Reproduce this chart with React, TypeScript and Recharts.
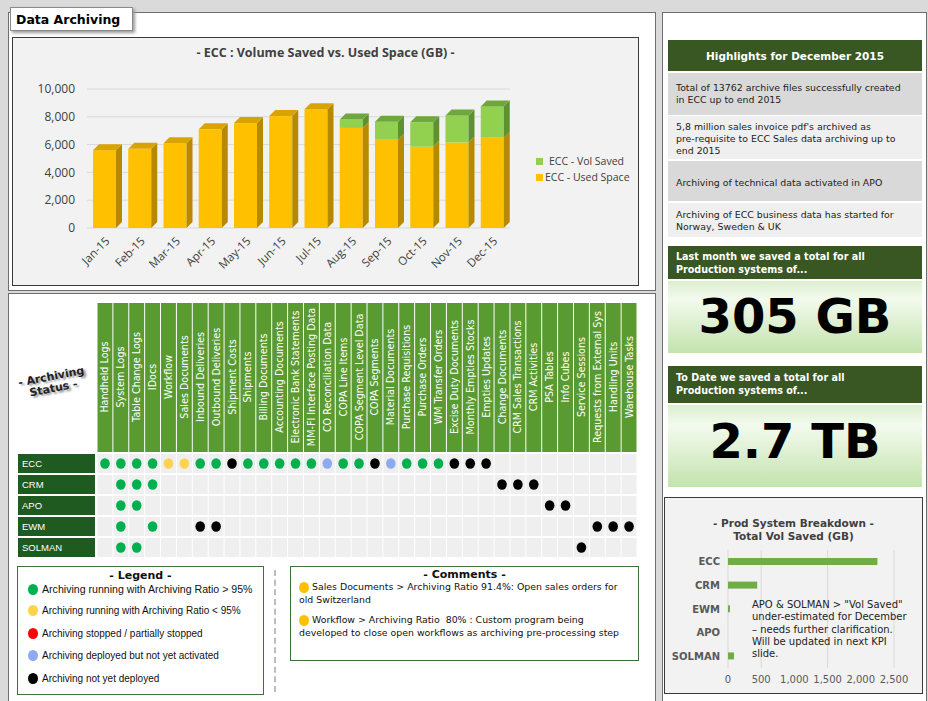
import React from 'react'
import { BarChart, Bar, XAxis, YAxis, CartesianGrid, ScatterChart, Scatter } from 'recharts'

const FONT = '"DejaVu Sans", Verdana, sans-serif'
const OPEN = '"Open Sans", "DejaVu Sans", sans-serif'
const ARIAL = '"Liberation Sans", Arial, sans-serif'
const DARK = '#385723'

// ECC volume saved vs used space (GB)
const months = ['Jan-15', 'Feb-15', 'Mar-15', 'Apr-15', 'May-15', 'Jun-15', 'Jul-15', 'Aug-15', 'Sep-15', 'Oct-15', 'Nov-15', 'Dec-15']
const usedSpace = [5600, 5700, 6100, 7100, 7550, 8050, 8550, 7200, 6350, 5850, 6150, 6500]
const volSaved = [0, 0, 0, 0, 0, 0, 0, 600, 1300, 1750, 1950, 2250]
const volTicks = [0, 2000, 4000, 6000, 8000, 10000]

// prod system breakdown, total vol saved (GB)
const prodSystems = ['ECC', 'CRM', 'EWM', 'APO', 'SOLMAN']
const prodSaved = [2250, 440, 30, 0, 90]
const prodTicks = [0, 500, 1000, 1500, 2000, 2500]

// archiving status grid
const archObjects = [
  'Handheld Logs', 'System Logs', 'Table Change Logs', 'IDocs', 'Workflow', 'Sales Documents',
  'Inbound Deliveries', 'Outbound Deliveries', 'Shipment Costs', 'Shipments', 'Billing Documents',
  'Accounting Documents', 'Electronic Bank Statements', 'MM-FI Interface Posting Data',
  'CO Reconciliation Data', 'COPA Line Items', 'COPA Segment Level Data', 'COPA Segments',
  'Material Documents', 'Purchase Requisitions', 'Purchase Orders', 'WM Transfer Orders',
  'Excise Duty Documents', 'Monthly Empties Stocks', 'Empties Updates', 'Change Documents',
  'CRM Sales Transactions', 'CRM Activities', 'PSA Tables', 'Info Cubes', 'Service Sessions',
  'Requests from External Sys', 'Handling Units', 'Warehouse Tasks',
]
const systems = ['ECC', 'CRM', 'APO', 'EWM', 'SOLMAN']
const statusColors: Record<string, string> = {
  run: '#00b050', low: '#ffd34f', stopped: '#ff0000', deployed: '#8eaaf0', none: '#000000',
}
const eccStatus = [
  'run', 'run', 'run', 'run', 'low', 'low', 'run', 'run', 'none', 'run', 'run', 'run', 'run',
  'run', 'deployed', 'run', 'run', 'none', 'deployed', 'run', 'run', 'run', 'none', 'none', 'none',
]
const crmStatus = [['System Logs', 'run'], ['Table Change Logs', 'run'], ['IDocs', 'run'],
  ['Change Documents', 'none'], ['CRM Sales Transactions', 'none'], ['CRM Activities', 'none']]
const apoStatus = [['System Logs', 'run'], ['Table Change Logs', 'run'], ['PSA Tables', 'none'], ['Info Cubes', 'none']]
const ewmStatus = [['System Logs', 'run'], ['IDocs', 'run'], ['Inbound Deliveries', 'none'],
  ['Outbound Deliveries', 'none'], ['Requests from External Sys', 'none'], ['Handling Units', 'none'],
  ['Warehouse Tasks', 'none']]
const solmanStatus = [['System Logs', 'run'], ['Table Change Logs', 'run'], ['Service Sessions', 'none']]

const legendItems = [
  ['run', 'Archiving running with Archiving Ratio > 95%'],
  ['low', 'Archiving running with Archiving Ratio < 95%'],
  ['stopped', 'Archiving stopped / partially stopped'],
  ['deployed', 'Archiving deployed but not yet activated'],
  ['none', 'Archiving not yet deployed'],
]
const comments = [
  'Sales Documents > Archiving Ratio 91.4%: Open sales orders for old Switzerland',
  'Workflow > Archiving Ratio\u00a0 80% : Custom program being developed to close open workflows as archiving pre-processing step',
]
const highlights = [
  'Total of 13762 archive files successfully created in ECC up to end 2015',
  "5,8 million sales invoice pdf's archived as pre\u2011requisite to ECC Sales data archiving up to end 2015",
  'Archiving of technical data activated in APO',
  'Archiving of ECC business data has started for Norway, Sweden & UK',
]
const prodNote = ['APO & SOLMAN > "Vol Saved"', 'under-estimated for December', '– needs further clarification.', 'Will be updated in next KPI', 'slide.']

const volData = months.map((m, i) => ({ month: m, used: usedSpace[i], saved: volSaved[i] }))
const prodData = prodSystems.map((s, i) => ({ system: s, saved: prodSaved[i] }))

const statusRows: Record<string, string[][]> = {
  ECC: eccStatus.map((s, i) => [archObjects[i], s]),
  CRM: crmStatus, APO: apoStatus, EWM: ewmStatus, SOLMAN: solmanStatus,
}
const statusPoints = systems.flatMap((sys, row) =>
  statusRows[sys].map(([obj, st]) => ({ x: archObjects.indexOf(obj), y: row, status: st })))
const gridCells = systems.flatMap((_, row) => archObjects.map((_o, col) => ({ x: col, y: row })))

// grid geometry
const GRID_W = 540
const GRID_H = 105
const CW = GRID_W / archObjects.length
const CH = GRID_H / systems.length

const DEPTH = 6
const bar3D = (front: string, side: string, top: string, isTop: (p: any) => boolean) => (props: any) => {
  const { x, y, width, height, payload } = props
  if (!height || height <= 0) return <g />
  const r = x + width
  return (
    <g>
      <rect x={x} y={y} width={width} height={height} fill={front} />
      <polygon points={`${r},${y} ${r + DEPTH},${y - DEPTH} ${r + DEPTH},${y + height - DEPTH} ${r},${y + height}`} fill={side} />
      {isTop(payload) && (
        <polygon points={`${x},${y} ${x + DEPTH},${y - DEPTH} ${r + DEPTH},${y - DEPTH} ${r},${y}`} fill={top} />
      )}
    </g>
  )
}
const UsedShape = bar3D('#ffc000', '#b78900', '#d9a400', (p) => !p.saved)
const SavedShape = bar3D('#92d050', '#5f9130', '#6ea83c', () => true)

const HeaderTick = ({ x, payload }: any) => (
  <g>
    <rect x={x - CW / 2 + 0.5} y={3} width={CW - 1} height={149} fill="#5a9b31" />
    <text transform={`translate(${x + 3.5},77) rotate(-90)`} textAnchor="middle" fill="#fff"
      fontSize={9.6} fontFamily={FONT}>{archObjects[payload.value]}</text>
  </g>
)

const RowTick = ({ y, payload }: any) => (
  <g>
    <rect x={2} y={y - CH / 2 + 1} width={77} height={CH - 2} fill="#1f5a21" />
    <text x={6} y={y + 3.5} fill="#fff" fontSize={9.5} fontFamily={ARIAL}>{systems[payload.value]}</text>
  </g>
)

const CellShape = ({ cx, cy }: any) => (
  <rect x={cx - CW / 2 + 0.5} y={cy - CH / 2 + 1} width={CW - 1} height={CH - 2} fill="#efefef" />
)
const DotShape = ({ cx, cy, payload }: any) => (
  <ellipse cx={cx} cy={cy} rx={4.8} ry={5.2} fill={statusColors[payload.status]} />
)

const Dot = ({ c, size = 10 }: { c: string; size?: number }) => (
  <span style={{ display: 'inline-block', width: size, height: size + 1, borderRadius: '50%', background: c, verticalAlign: 'middle' }} />
)

const abs = (left: number, top: number, width: number, height: number, extra: any = {}) => ({
  position: 'absolute' as const, left, top, width, height, boxSizing: 'border-box' as const, ...extra,
})

export default function App() {
  return (
    <div style={abs(0, 0, 928, 701, { background: '#dadada', overflow: 'hidden', fontFamily: FONT })}>
      {/* left panels */}
      <div style={abs(8, 12, 648, 279, { background: '#fff', border: '1px solid #6e6e6e' })} />
      <div style={abs(8, 293, 648, 410, { background: '#fff', border: '1px solid #6e6e6e' })} />
      <div style={abs(10, 7, 123, 24, { background: '#fff', border: '1px solid #8a8a8a', boxShadow: '2px 2px 3px #999', fontWeight: 'bold', fontSize: 12.5, padding: '4px 0 0 5px' })}>Data Archiving</div>

      {/* ECC chart */}
      <div style={abs(12, 37, 627, 249, { background: '#f2f2f2', border: '1px solid #3a3a3a' })}>
        <div style={{ position: 'absolute', left: 0, width: '100%', top: 6, textAlign: 'center', fontFamily: OPEN, fontWeight: 700, fontSize: 12.5, color: '#404040' }}>
          - ECC : Volume Saved vs. Used Space (GB) -
        </div>
        <BarChart width={626} height={248} data={volData} margin={{ top: 52, right: 128, bottom: 0, left: 0 }}
          style={{ position: 'absolute', left: -1, top: -1 }}>
          <CartesianGrid vertical={false} stroke="#d9d9d9" />
          <XAxis dataKey="month" height={57} interval={0} axisLine={false} tickLine={false} tickMargin={2}
            tick={{ angle: -45, textAnchor: 'end', fontSize: 11.5, fill: '#404040', fontFamily: OPEN }} />
          <YAxis domain={[0, 10000]} ticks={volTicks} width={75} axisLine={false} tickLine={false} tickMargin={6}
            tickFormatter={(v: number) => v.toLocaleString('en-US')}
            tick={{ fontSize: 12, fill: '#404040', fontFamily: OPEN }} />
          <Bar dataKey="used" stackId="v" barSize={23} shape={UsedShape} isAnimationActive={false} />
          <Bar dataKey="saved" stackId="v" barSize={23} shape={SavedShape} isAnimationActive={false} />
        </BarChart>
        <div style={{ position: 'absolute', left: 523, top: 115, fontFamily: OPEN, fontSize: 10.5, color: '#404040', lineHeight: '16px', whiteSpace: 'nowrap' }}>
          <div><span style={{ display: 'inline-block', width: 7, height: 7, background: '#92d050', marginRight: 6 }} />ECC - Vol Saved</div>
          <div><span style={{ display: 'inline-block', width: 7, height: 7, background: '#ffc000', marginRight: 2 }} />ECC - Used Space</div>
        </div>
      </div>

      {/* archiving status */}
      <div style={abs(13, 371, 80, 30, { transform: 'rotate(-11deg)', textAlign: 'center', fontWeight: 'bold', fontSize: 11, color: '#222', lineHeight: '12px', textShadow: '2px 2px 2px #999' })}>
        - Archiving<br />Status -
      </div>
      <ScatterChart width={625} height={262} margin={{ top: 0, right: 4, bottom: 4, left: 0 }}
        style={{ position: 'absolute', left: 16, top: 300 }}>
        <XAxis type="number" dataKey="x" orientation="top" domain={[-0.5, archObjects.length - 0.5]}
          ticks={archObjects.map((_, i) => i)} interval={0} height={153} axisLine={false} tickLine={false} tick={HeaderTick} />
        <YAxis type="number" dataKey="y" reversed domain={[-0.5, systems.length - 0.5]}
          ticks={systems.map((_, i) => i)} interval={0} width={81} axisLine={false} tickLine={false} tick={RowTick} />
        <Scatter data={gridCells} shape={CellShape} isAnimationActive={false} />
        <Scatter data={statusPoints} shape={DotShape} isAnimationActive={false} />
      </ScatterChart>

      {/* legend */}
      <div style={abs(17, 566, 247, 129, { border: '1px solid #3f6f3f', background: '#fff', fontFamily: ARIAL, fontSize: 10, color: '#111' })}>
        <div style={{ textAlign: 'center', fontFamily: FONT, fontWeight: 'bold', fontSize: 11, marginTop: 2 }}>- Legend -</div>
        {legendItems.map(([k, t], i) => (
          <div key={k} style={{ position: 'absolute', left: 10, top: 15 + i * 22.5, whiteSpace: 'nowrap', fontSize: i === 0 ? 10.6 : 10 }}>
            <Dot c={statusColors[k]} /><span style={{ marginLeft: 4, verticalAlign: 'middle' }}>{t}</span>
          </div>
        ))}
      </div>
      <div style={abs(274, 570, 2, 122, { borderLeft: '2px dashed #bdbdbd' })} />
      <div style={abs(290, 566, 349, 95, { border: '1px solid #3f6f3f', background: '#fff', fontSize: 9.4, color: '#111' })}>
        <div style={{ textAlign: 'center', fontWeight: 'bold', fontSize: 11, marginTop: 1 }}>- Comments -</div>
        {comments.map((t, i) => (
          <div key={i} style={{ position: 'absolute', left: 8, top: 14 + i * 33, width: 324, lineHeight: '12.5px' }}>
            <Dot c="#ffc000" /> {t}
          </div>
        ))}
      </div>

      {/* right panel */}
      <div style={abs(662, 12, 265, 692, { background: '#fff', border: '1px solid #6e6e6e' })} />
      <div style={abs(668, 40, 254, 31, { background: DARK, color: '#fff', fontWeight: 'bold', fontSize: 10.5, textAlign: 'center', paddingTop: 10 })}>
        Highlights for December 2015
      </div>
      {highlights.map((t, i) => {
        const tops = [73, 116, 161, 203]
        const hs = [42, 43, 40, 34]
        const pads = [9, 5, 16, 6]
        return (
          <div key={i} style={abs(668, tops[i], 254, hs[i], { background: i % 2 ? '#efefef' : '#d9d9d9', fontSize: 9.4, color: '#222', lineHeight: '12px', padding: `${pads[i]}px 12px 0 8px` })}>{t}</div>
        )
      })}
      <div style={abs(668, 246, 254, 33, { background: DARK, color: '#fff', fontWeight: 'bold', fontSize: 9.6, lineHeight: '13px', padding: '4px 0 0 8px' })}>
        Last month we saved a total for all<br />Production systems of...
      </div>
      <div style={abs(668, 281, 254, 72, { background: 'linear-gradient(#dcefce, #f3faee 25%, #c3e3ad)', fontWeight: 'bold', fontSize: 48, textAlign: 'center', lineHeight: '70px' })}>305 GB</div>
      <div style={abs(668, 366, 254, 37, { background: DARK, color: '#fff', fontWeight: 'bold', fontSize: 9.6, lineHeight: '13px', padding: '5px 0 0 8px' })}>
        To Date we saved a total for all<br />Production systems of...
      </div>
      <div style={abs(668, 405, 254, 82, { background: 'linear-gradient(#dcefce, #f3faee 25%, #c3e3ad)', fontWeight: 'bold', fontSize: 48, textAlign: 'center', lineHeight: '72px' })}>2.7 TB</div>

      {/* prod system breakdown */}
      <div style={abs(664, 497, 259, 197, { background: '#f2f2f2', border: '1px solid #3a3a3a' })}>
        <div style={{ position: 'absolute', left: 0, width: '100%', top: 19, textAlign: 'center', fontWeight: 'bold', fontSize: 10.5, color: '#404040', lineHeight: '13px' }}>
          - Prod System Breakdown -<br />Total Vol Saved (GB)
        </div>
        <BarChart width={258} height={196} data={prodData} layout="vertical" margin={{ top: 53, right: 29, bottom: 0, left: 0 }}
          style={{ position: 'absolute', left: 0, top: -1 }}>
          <CartesianGrid horizontal={false} stroke="#d9d9d9" />
          <XAxis type="number" domain={[0, 2500]} ticks={prodTicks} height={25} axisLine={false} tickLine={false} tickMargin={2}
            tickFormatter={(v: number) => v.toLocaleString('en-US')}
            tick={{ fontSize: 10, fill: '#595959', fontFamily: FONT }} />
          <YAxis type="category" dataKey="system" width={63} axisLine={false} tickLine={false} tickMargin={2}
            tick={{ fontSize: 10, fill: '#595959', fontWeight: 'bold', fontFamily: FONT }} />
          <Bar dataKey="saved" fill="#70ad47" barSize={7} isAnimationActive={false} />
        </BarChart>
        <div style={{ position: 'absolute', left: 87, top: 101, fontSize: 10, color: '#222', lineHeight: '12.3px', whiteSpace: 'nowrap' }}>
          {prodNote.map((l, i) => <div key={i}>{l}</div>)}
        </div>
      </div>
    </div>
  )
}
